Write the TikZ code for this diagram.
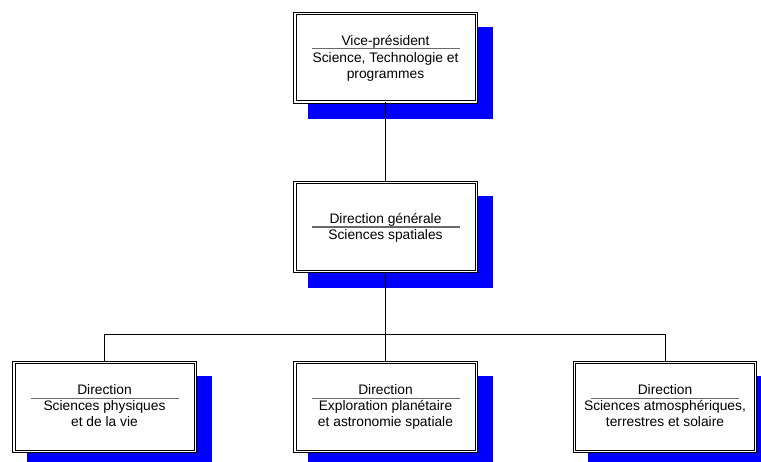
\documentclass[tikz,border=0pt]{standalone}
\usepackage{fontspec}
\setmainfont{Liberation Sans}
\definecolor{shadowblue}{RGB}{0,0,255}
\definecolor{sepgray}{RGB}{105,105,105}
\begin{document}
\begin{tikzpicture}[x=0.75pt,y=-0.75pt,
  shadowrect/.style={fill=shadowblue, draw=none, inner sep=0pt, minimum width=138.75pt, minimum height=69pt},
  orgbox/.style={draw=black, line width=0.75pt, double=white, double distance=1.1pt, fill=white, inner sep=0pt, minimum width=136.1pt, minimum height=66.4pt},
  lbl/.style={anchor=base, inner sep=0pt, font=\fontsize{10.35}{12}\selectfont},
  sepline/.style={draw=sepgray, line width=1.2pt},
  conn/.style={draw=black, line width=0.75pt}]
\useasboundingbox (0,0) rectangle (761,461);
\clip (0,0) rectangle (761,461);
% shadows
\node[shadowrect] (s1) at (400.5,72.5) {};
\node[shadowrect] (s2) at (400.5,242) {};
\node[shadowrect] (s3) at (119.5,422) {};
\node[shadowrect] (s4) at (400.5,422) {};
\node[shadowrect] (s5) at (680,422) {};
% junction coordinates
\coordinate (j) at (385.5,334);
\coordinate (jl) at (104.5,334);
\coordinate (jr) at (665,334);
% boxes
\node[orgbox] (vp) at (385.5,57.5) {};
\node[orgbox] (dg) at (385.5,227) {};
\node[orgbox] (d1) at (104.5,407) {};
\node[orgbox] (d2) at (385.5,407) {};
\node[orgbox] (d3) at (665,407) {};
% connectors
\draw[conn] (vp.south) -- (dg.north);
\draw[conn] (dg.south) -- (j);
\draw[conn] (jl) -- (jr);
\draw[conn] (jl) -- (d1.north);
\draw[conn] (j) -- (d2.north);
\draw[conn] (jr) -- (d3.north);
% texts top
\node[lbl] (vp1) at (385.5,45) {Vice-président};
\draw[sepline] (311.5,48.5) -- (459.5,48.5);
\node[lbl] (vp2) at (385.5,62) {Science, Technologie et};
\node[lbl] (vp3) at (385.5,78) {programmes};
% middle
\node[lbl] (dg1) at (385.5,223) {Direction générale};
\draw[sepline] (311.5,227) -- (459.5,227);
\node[lbl] (dg2) at (385.5,239) {Sciences spatiales};
% bottom left
\node[lbl] (d11) at (104.5,394.5) {Direction};
\draw[sepline] (30.5,398.5) -- (178.5,398.5);
\node[lbl] (d12) at (104.5,410.5) {Sciences physiques};
\node[lbl] (d13) at (104.5,426.5) {et de la vie};
% bottom middle
\node[lbl] (d21) at (385.5,394.5) {Direction};
\draw[sepline] (311.5,398.5) -- (459.5,398.5);
\node[lbl] (d22) at (385.5,410.5) {Exploration planétaire};
\node[lbl] (d23) at (385.5,426.5) {et astronomie spatiale};
% bottom right
\node[lbl] (d31) at (665,394.5) {Direction};
\draw[sepline] (591,398.5) -- (739,398.5);
\node[lbl] (d32) at (665,410.5) {Sciences atmosphériques,};
\node[lbl] (d33) at (665,426.5) {terrestres et solaire};
\end{tikzpicture}
\end{document}
